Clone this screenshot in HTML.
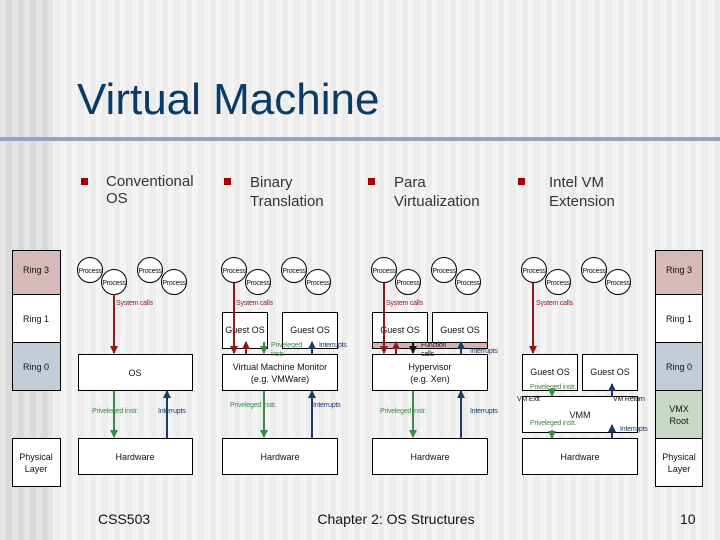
<!DOCTYPE html>
<html><head><meta charset="utf-8"><style>
html,body{margin:0;padding:0}
body{width:720px;height:540px;overflow:hidden;position:relative;font-family:"Liberation Sans",sans-serif;
background:repeating-linear-gradient(90deg,#f4f4f4 0 6px,#ececec 6px 12px);}
#lb{position:absolute;left:0;top:0;width:53px;height:540px;background:repeating-linear-gradient(90deg,#e4e4e4 0 6px,#dadada 6px 12px);}
svg{position:absolute;left:0;top:0}
</style></head><body>
<div id="lb"></div>
<svg width="720" height="540" viewBox="0 0 720 540" font-family="Liberation Sans, sans-serif">
<defs>
<marker id="r" markerUnits="userSpaceOnUse" markerWidth="8" markerHeight="8" refX="7" refY="4" orient="auto"><path d="M0,0L8,4L0,8z" fill="#8b1a1a"/></marker>
<marker id="g" markerUnits="userSpaceOnUse" markerWidth="8" markerHeight="8" refX="7" refY="4" orient="auto"><path d="M0,0L8,4L0,8z" fill="#3a8a4a"/></marker>
<marker id="b" markerUnits="userSpaceOnUse" markerWidth="8" markerHeight="8" refX="7" refY="4" orient="auto"><path d="M0,0L8,4L0,8z" fill="#1a3a6a"/></marker>
<marker id="k" markerUnits="userSpaceOnUse" markerWidth="8" markerHeight="8" refX="7" refY="4" orient="auto"><path d="M0,0L8,4L0,8z" fill="#111"/></marker>
</defs>
<rect x="0" y="137" width="720" height="4" fill="#8ea6bf"/>
<text x="77" y="114" font-size="44" fill="#0b3a66">Virtual Machine</text>
<g fill="#a00000"><rect x="81" y="178" width="7" height="7"/><rect x="224" y="178" width="7" height="7"/><rect x="368" y="178" width="7" height="7"/><rect x="518" y="178" width="7" height="7"/></g>
<g font-size="15" fill="#333">
<text x="106" y="186">Conventional</text><text x="106" y="203">OS</text>
<text x="250" y="187">Binary</text><text x="250" y="206">Translation</text>
<text x="394" y="187">Para</text><text x="394" y="206">Virtualization</text>
<text x="549" y="187">Intel VM</text><text x="549" y="206">Extension</text>
</g>
<!-- ring columns -->
<g stroke="#000" stroke-width="1">
<rect x="12.5" y="250.5" width="48" height="44" fill="#d8b9b9"/>
<rect x="12.5" y="294.5" width="48" height="48" fill="#fff"/>
<rect x="12.5" y="342.5" width="48" height="48" fill="#c2cdd9"/>
<rect x="12.5" y="438.5" width="48" height="48" fill="#fff"/>
<rect x="655.5" y="250.5" width="47" height="44" fill="#d8b9b9"/>
<rect x="655.5" y="294.5" width="47" height="48" fill="#fff"/>
<rect x="655.5" y="342.5" width="47" height="48" fill="#c2cdd9"/>
<rect x="655.5" y="390.5" width="47" height="48" fill="#c9d9c9"/>
<rect x="655.5" y="438.5" width="47" height="48" fill="#fff"/>
</g>
<g font-size="9" fill="#111" text-anchor="middle">
<text x="36" y="273">Ring 3</text><text x="36" y="322">Ring 1</text><text x="36" y="370">Ring 0</text>
<text x="36" y="460">Physical</text><text x="36" y="472">Layer</text>
<text x="679" y="273">Ring 3</text><text x="679" y="322">Ring 1</text><text x="679" y="370">Ring 0</text>
<text x="679" y="412">VMX</text><text x="679" y="424">Root</text>
<text x="679" y="460">Physical</text><text x="679" y="472">Layer</text>
</g>
<!-- process circles -->
<g stroke="#000" fill="#fff">
<circle cx="90" cy="270" r="12.5"/><circle cx="114" cy="282" r="12.5"/><circle cx="150" cy="270" r="12.5"/><circle cx="174" cy="282" r="12.5"/>
<circle cx="234" cy="270" r="12.5"/><circle cx="258" cy="282" r="12.5"/><circle cx="294" cy="270" r="12.5"/><circle cx="318" cy="282" r="12.5"/>
<circle cx="384" cy="270" r="12.5"/><circle cx="408" cy="282" r="12.5"/><circle cx="444" cy="270" r="12.5"/><circle cx="468" cy="282" r="12.5"/>
<circle cx="534" cy="270" r="12.5"/><circle cx="558" cy="282" r="12.5"/><circle cx="594" cy="270" r="12.5"/><circle cx="618" cy="282" r="12.5"/>
</g>
<g font-size="7" fill="#111" text-anchor="middle" letter-spacing="-0.3">
<text x="90" y="273">Process</text><text x="114" y="285">Process</text><text x="150" y="273">Process</text><text x="174" y="285">Process</text>
<text x="234" y="273">Process</text><text x="258" y="285">Process</text><text x="294" y="273">Process</text><text x="318" y="285">Process</text>
<text x="384" y="273">Process</text><text x="408" y="285">Process</text><text x="444" y="273">Process</text><text x="468" y="285">Process</text>
<text x="534" y="273">Process</text><text x="558" y="285">Process</text><text x="594" y="273">Process</text><text x="618" y="285">Process</text>
</g>
<!-- boxes -->
<g stroke="#000" fill="#fff">
<rect x="78.5" y="354.5" width="114" height="36"/><rect x="78.5" y="438.5" width="114" height="36"/>
<rect x="222.5" y="312.5" width="45" height="36"/><rect x="282.5" y="312.5" width="55" height="36"/>
<rect x="222.5" y="354.5" width="115" height="36"/><rect x="222.5" y="438.5" width="115" height="36"/>
<rect x="372.5" y="312.5" width="55" height="36"/><rect x="432.5" y="312.5" width="55" height="36"/>
<rect x="372.5" y="342.5" width="115" height="6" fill="#d8b0b0"/>
<rect x="372.5" y="354.5" width="115" height="36"/><rect x="372.5" y="438.5" width="115" height="36"/>
<rect x="522.5" y="354.5" width="55" height="36"/><rect x="582.5" y="354.5" width="55" height="36"/>
<rect x="522.5" y="396.5" width="115" height="36"/><rect x="522.5" y="438.5" width="115" height="36"/>
</g>
<g font-size="9" fill="#111" text-anchor="middle">
<text x="135" y="376">OS</text><text x="135" y="460">Hardware</text>
<text x="245" y="333">Guest OS</text><text x="310" y="333">Guest OS</text>
<text x="280" y="370">Virtual Machine Monitor</text><text x="280" y="382">(e.g. VMWare)</text>
<text x="280" y="460">Hardware</text>
<text x="400" y="333">Guest OS</text><text x="460" y="333">Guest OS</text>
<text x="430" y="370">Hypervisor</text><text x="430" y="382">(e.g. Xen)</text>
<text x="430" y="460">Hardware</text>
<text x="550" y="375">Guest OS</text><text x="610" y="375">Guest OS</text>
<text x="580" y="418">VMM</text><text x="580" y="460">Hardware</text>
</g>
<!-- arrows -->
<g stroke-width="2" fill="none">
<line x1="114" y1="294" x2="114" y2="353" stroke="#8b1a1a" marker-end="url(#r)"/>
<line x1="114" y1="391" x2="114" y2="437" stroke="#3a8a4a" marker-end="url(#g)"/>
<line x1="167" y1="438" x2="167" y2="391" stroke="#1a3a6a" marker-end="url(#b)"/>

<line x1="234" y1="283" x2="234" y2="353" stroke="#8b1a1a" marker-end="url(#r)"/>
<line x1="246" y1="354" x2="246" y2="342" stroke="#8b1a1a" marker-end="url(#r)"/>
<line x1="264" y1="342" x2="264" y2="353" stroke="#3a8a4a" marker-end="url(#g)"/>
<line x1="312" y1="354" x2="312" y2="342" stroke="#1a3a6a" marker-end="url(#b)"/>
<line x1="264" y1="391" x2="264" y2="437" stroke="#3a8a4a" marker-end="url(#g)"/>
<line x1="312" y1="438" x2="312" y2="391" stroke="#1a3a6a" marker-end="url(#b)"/>

<line x1="384" y1="283" x2="384" y2="353" stroke="#8b1a1a" marker-end="url(#r)"/>
<line x1="396" y1="354" x2="396" y2="342" stroke="#8b1a1a" marker-end="url(#r)"/>
<line x1="413" y1="342" x2="413" y2="353" stroke="#111" marker-end="url(#k)"/>
<line x1="461" y1="354" x2="461" y2="342" stroke="#1a3a6a" marker-end="url(#b)"/>
<line x1="413" y1="391" x2="413" y2="437" stroke="#3a8a4a" marker-end="url(#g)"/>
<line x1="461" y1="438" x2="461" y2="391" stroke="#1a3a6a" marker-end="url(#b)"/>

<line x1="533" y1="283" x2="533" y2="353" stroke="#8b1a1a" marker-end="url(#r)"/>
<line x1="552" y1="388" x2="552" y2="396" stroke="#3a8a4a" marker-end="url(#g)"/>
<line x1="612" y1="397" x2="612" y2="384" stroke="#1a3a6a" marker-end="url(#b)"/>
<line x1="552" y1="430" x2="552" y2="438" stroke="#3a8a4a" marker-end="url(#g)"/>
<line x1="612" y1="438" x2="612" y2="425" stroke="#1a3a6a" marker-end="url(#b)"/>
</g>
<g font-size="7" letter-spacing="-0.2">
<g fill="#8b1a1a"><text x="116" y="305">System calls</text><text x="236" y="305">System calls</text><text x="386" y="305">System calls</text><text x="536" y="305">System calls</text></g>
<g fill="#3a8a4a"><text x="92" y="413">Priveleged instr.</text><text x="271" y="347">Priveleged</text><text x="271" y="356">instr.</text>
<text x="230" y="407">Priveleged instr.</text><text x="380" y="413">Priveleged instr.</text>
<text x="530" y="389">Priveleged instr.</text><text x="530" y="425">Priveleged instr.</text></g>
<g fill="#1a3a6a"><text x="158" y="413">Interrupts</text><text x="319" y="347">Interrupts</text><text x="313" y="407">Interrupts</text>
<text x="470" y="353">Interrupts</text><text x="470" y="413">Interrupts</text><text x="620" y="431">Interrupts</text></g>
<g fill="#111"><text x="421" y="347">Function</text><text x="421" y="356">calls</text>
<text x="517" y="401">VM Exit</text><text x="613" y="401">VM Return</text></g>
</g>
<g font-size="14" fill="#111">
<text x="98" y="524">CSS503</text>
<text x="396" y="524" text-anchor="middle">Chapter 2: OS Structures</text>
<text x="680" y="524">10</text>
</g>
</svg>
</body></html>
